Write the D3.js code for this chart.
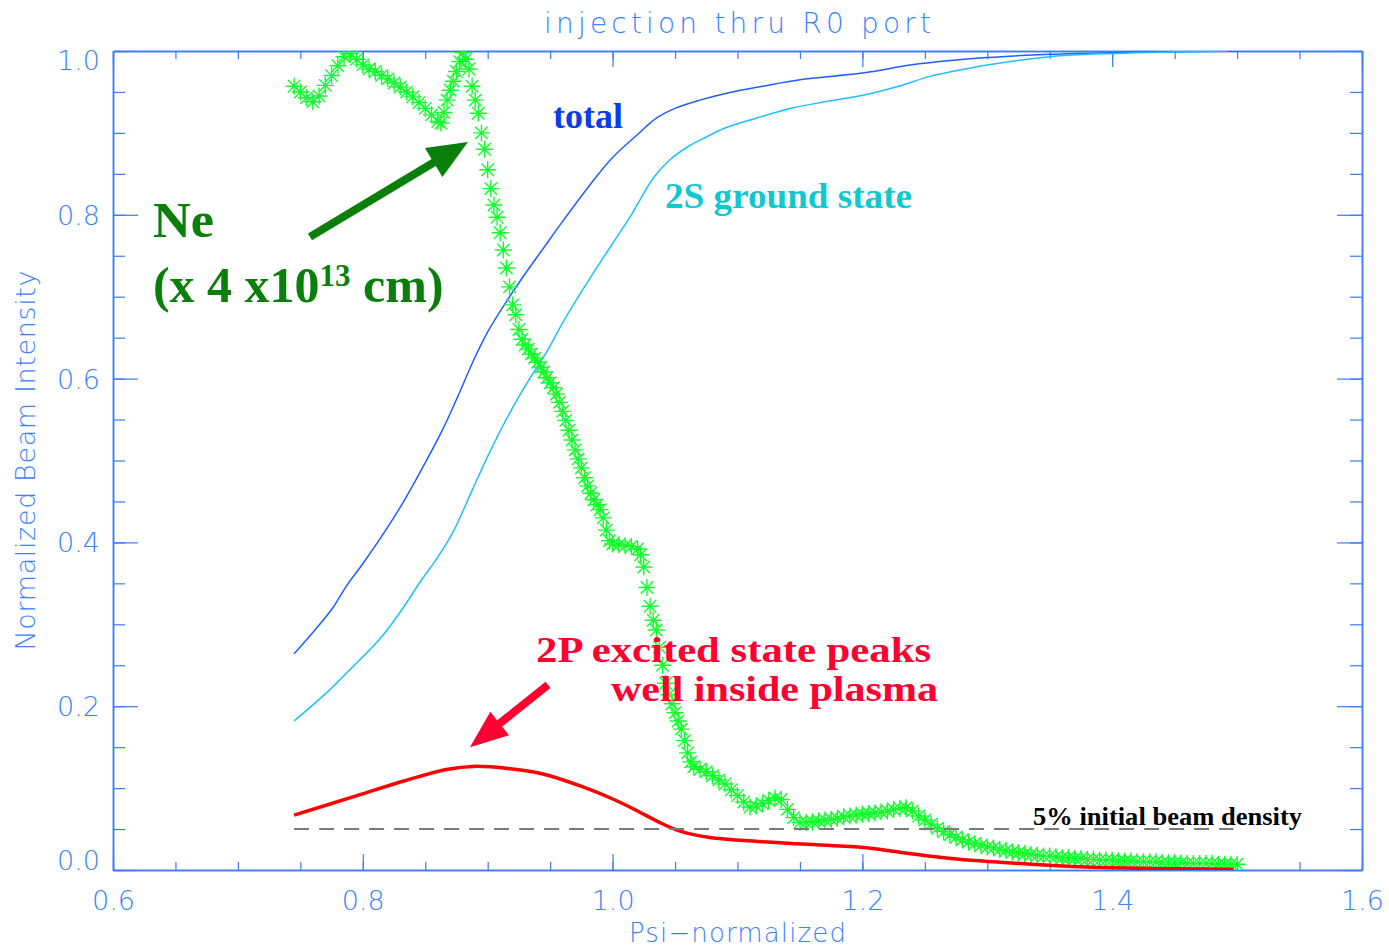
<!DOCTYPE html>
<html>
<head>
<meta charset="utf-8">
<script src="https://cdn.jsdelivr.net/npm/d3@7"></script>
<style>
  body { margin: 0; background: #fff; }
  .ax text { font-family: "DejaVu Sans", sans-serif; font-weight: 200; fill: #3b82ff; }
  .ax path, .ax line { stroke: #3a7bff; }
  .ann { font-family: "Liberation Serif", "Times New Roman", serif; font-weight: bold; }
</style>
</head>
<body>
<svg id="chart" width="1389" height="950"></svg>
<script>
// total beam (normalized)
const totalX = [0.745, 0.760, 0.775, 0.787, 0.800, 0.8136, 0.830, 0.8456, 0.864, 0.876, 0.888, 0.900, 0.915, 0.930, 0.945, 0.960, 0.9826, 1.000, 1.020, 1.035, 1.050, 1.070, 1.093, 1.120, 1.150, 1.200, 1.244, 1.300, 1.350, 1.400, 1.450, 1.500];
const totalY = [0.264, 0.290, 0.318, 0.347, 0.374, 0.404, 0.443, 0.485, 0.538, 0.578, 0.620, 0.657, 0.694, 0.728, 0.760, 0.792, 0.838, 0.870, 0.898, 0.918, 0.930, 0.940, 0.949, 0.957, 0.965, 0.973, 0.984, 0.992, 0.996, 0.998, 0.999, 1.000];

// 2S ground state
const groundX = [0.745, 0.770, 0.790, 0.8136, 0.830, 0.8456, 0.860, 0.872, 0.888, 0.900, 0.918, 0.932, 0.947, 0.960, 0.971, 0.985, 1.000, 1.015, 1.0326, 1.045, 1.0612, 1.075, 1.090, 1.115, 1.143, 1.170, 1.2005, 1.229, 1.254, 1.275, 1.300, 1.350, 1.400, 1.450, 1.493];
const groundY = [0.182, 0.215, 0.245, 0.282, 0.315, 0.351, 0.382, 0.412, 0.465, 0.505, 0.559, 0.596, 0.632, 0.668, 0.696, 0.730, 0.765, 0.800, 0.845, 0.866, 0.884, 0.895, 0.906, 0.918, 0.930, 0.938, 0.946, 0.957, 0.969, 0.976, 0.983, 0.993, 0.997, 0.999, 1.000];

// 2P excited state
const excitedX = [0.745, 0.7907, 0.8336, 0.868, 0.888, 0.9165, 0.945, 0.9736, 1.002, 1.020, 1.037, 1.054, 1.0765, 1.105, 1.148, 1.199, 1.231, 1.271, 1.332, 1.392, 1.497];
const excitedY = [0.067, 0.0886, 0.109, 0.123, 0.1265, 0.124, 0.117, 0.103, 0.0855, 0.072, 0.0585, 0.0475, 0.040, 0.036, 0.032, 0.0277, 0.0215, 0.014, 0.0073, 0.003, 0.001];

// Ne density (x 4e13), plotted with asterisks
const neX = [
  0.745, 0.750, 0.755, 0.760, 0.765, 0.770, 0.775, 0.780, 0.785, 0.790, 0.795, 0.800, 0.805, 0.810, 0.815, 0.820, 0.825, 0.830, 0.835, 0.840, 0.845, 0.850, 0.855, 0.860,
  0.8625, 0.865, 0.8675, 0.870, 0.8725, 0.875, 0.8775, 0.880, 0.8825, 0.885, 0.8875, 0.890, 0.8925, 0.895, 0.8975, 0.900, 0.9025, 0.905, 0.9075, 0.910, 0.9125, 0.915, 0.9175, 0.920,
  0.9225, 0.925, 0.9275, 0.930, 0.9325, 0.935, 0.9375, 0.940, 0.9425, 0.945, 0.9475, 0.950, 0.9525, 0.955, 0.9575, 0.960, 0.9625, 0.965, 0.9675, 0.970, 0.9725, 0.975, 0.9775, 0.980,
  0.9825, 0.985, 0.9875, 0.990, 0.9925, 0.995, 0.9975, 1.000, 1.005, 1.010, 1.015, 1.020, 1.0225, 1.025, 1.0275, 1.030, 1.0325, 1.035, 1.0375, 1.040, 1.0425, 1.045, 1.0475, 1.050,
  1.0525, 1.055, 1.0575, 1.060, 1.0625, 1.065, 1.070, 1.075, 1.080, 1.085, 1.090, 1.095, 1.100, 1.105, 1.110, 1.115, 1.120, 1.125, 1.130, 1.135, 1.140, 1.145, 1.150, 1.155,
  1.160, 1.165, 1.170, 1.175, 1.180, 1.185, 1.190, 1.195, 1.200, 1.205, 1.210, 1.215, 1.220, 1.225, 1.230, 1.235, 1.240, 1.245, 1.250, 1.255, 1.260, 1.265, 1.270, 1.275,
  1.280, 1.285, 1.290, 1.295, 1.300, 1.305, 1.310, 1.315, 1.320, 1.325, 1.330, 1.335, 1.340, 1.345, 1.350, 1.355, 1.360, 1.365, 1.370, 1.375, 1.380, 1.385, 1.390, 1.395,
  1.400, 1.405, 1.410, 1.415, 1.420, 1.425, 1.430, 1.435, 1.440, 1.445, 1.450, 1.455, 1.460, 1.465, 1.470, 1.475, 1.480, 1.485, 1.490, 1.495, 1.500
];
const neY = [
  0.957, 0.950, 0.943, 0.938, 0.945, 0.958, 0.970, 0.982, 0.993, 0.997, 0.990, 0.983, 0.978, 0.975, 0.970, 0.966, 0.961, 0.956, 0.950, 0.944, 0.937, 0.930, 0.922, 0.914,
  0.912, 0.925, 0.940, 0.952, 0.963, 0.975, 0.987, 0.998, 0.990, 0.978, 0.957, 0.940, 0.924, 0.900, 0.880, 0.855, 0.832, 0.812, 0.797, 0.778, 0.757, 0.735, 0.712, 0.690,
  0.678, 0.660, 0.648, 0.641, 0.636, 0.630, 0.625, 0.620, 0.614, 0.608, 0.601, 0.595, 0.589, 0.581, 0.571, 0.560, 0.549, 0.537, 0.525, 0.513, 0.502, 0.491, 0.479, 0.469,
  0.460, 0.452, 0.446, 0.440, 0.430, 0.415, 0.402, 0.398, 0.397, 0.396, 0.395, 0.392, 0.385, 0.370, 0.345, 0.322, 0.305, 0.293, 0.272, 0.250, 0.228, 0.214, 0.203, 0.192,
  0.182, 0.172, 0.158, 0.143, 0.132, 0.126, 0.123, 0.120, 0.115, 0.110, 0.105, 0.098, 0.091, 0.083, 0.077, 0.078, 0.081, 0.085, 0.088, 0.086, 0.074, 0.064, 0.058, 0.058,
  0.059, 0.060, 0.061, 0.062, 0.063, 0.065, 0.066, 0.067, 0.068, 0.069, 0.070, 0.071, 0.072, 0.074, 0.075, 0.076, 0.072, 0.066, 0.061, 0.056, 0.051, 0.047, 0.043, 0.040,
  0.037, 0.034, 0.032, 0.030, 0.028, 0.027, 0.025, 0.024, 0.022, 0.021, 0.020, 0.019, 0.018, 0.017, 0.017, 0.016, 0.015, 0.015, 0.014, 0.014, 0.013, 0.013, 0.012, 0.012,
  0.012, 0.011, 0.011, 0.011, 0.010, 0.010, 0.010, 0.010, 0.009, 0.009, 0.009, 0.009, 0.008, 0.008, 0.008, 0.008, 0.008, 0.007, 0.007, 0.007, 0.007
];

// 5% reference line
const refLevel = 0.05;
const refRange = [0.745, 1.497];

const xMajor = [0.6, 0.8, 1.0, 1.2, 1.4, 1.6];
const yMajor = [0.0, 0.2, 0.4, 0.6, 0.8, 1.0];
const xMinor = d3.range(0.6, 1.6001, 0.05);
const yMinor = d3.range(0, 1.0001, 0.05);

const svg = d3.select("#chart");
const pLeft = 113, pRight = 1362, pTop = 51, pBottom = 870;

const x = d3.scaleLinear().domain([0.6, 1.6]).range([pLeft, pRight]);
const y = d3.scaleLinear().domain([0, 1]).range([pBottom, pTop]);

svg.append("rect").attr("width", 1389).attr("height", 950).attr("fill", "#fff");

svg.append("defs").append("clipPath").attr("id", "plotClip")
  .append("rect").attr("x", pLeft).attr("y", pTop).attr("width", pRight - pLeft).attr("height", pBottom - pTop);

// axes (IDL style, ticks pointing inward)
function drawAxis(gen, tx, ty) {
  return svg.append("g").attr("class", "ax").attr("transform", `translate(${tx},${ty})`).call(gen);
}
const fmt = d3.format(".1f");

drawAxis(d3.axisBottom(x).tickValues(xMinor).tickSize(-8).tickSizeOuter(0).tickFormat(""), 0, pBottom);
const xAx = drawAxis(d3.axisBottom(x).tickValues(xMajor).tickSize(-16).tickSizeOuter(0).tickPadding(21).tickFormat(fmt), 0, pBottom);
drawAxis(d3.axisTop(x).tickValues(xMinor).tickSize(-8).tickSizeOuter(0).tickFormat(""), 0, pTop);
drawAxis(d3.axisTop(x).tickValues(xMajor).tickSize(-16).tickSizeOuter(0).tickFormat(""), 0, pTop);
drawAxis(d3.axisLeft(y).tickValues(yMinor).tickSize(-12).tickSizeOuter(0).tickFormat(""), pLeft, 0);
const yAx = drawAxis(d3.axisLeft(y).tickValues(yMajor).tickSize(-25).tickSizeOuter(0).tickPadding(13).tickFormat(fmt), pLeft, 0);
drawAxis(d3.axisRight(y).tickValues(yMinor).tickSize(-12).tickSizeOuter(0).tickFormat(""), pRight, 0);
drawAxis(d3.axisRight(y).tickValues(yMajor).tickSize(-25).tickSizeOuter(0).tickFormat(""), pRight, 0);

svg.selectAll(".ax path").attr("stroke-width", 1.5);
svg.selectAll(".ax line").attr("stroke-width", 1.2);
xAx.selectAll("text").attr("font-size", 27);
yAx.selectAll("text").attr("font-size", 27)
  .attr("dy", d => d === 1 ? "0.68em" : d === 0 ? "-0.02em" : "0.35em");

// titles
svg.append("text")
  .attr("x", (pLeft + pRight) / 2).attr("y", 33)
  .attr("text-anchor", "middle").attr("textLength", 387)
  .style("font", "200 28px 'DejaVu Sans', sans-serif").attr("fill", "#3b82ff")
  .text("injection thru R0 port");
svg.append("text")
  .attr("x", (pLeft + pRight) / 2).attr("y", 942)
  .attr("text-anchor", "middle").attr("textLength", 217)
  .style("font", "200 26px 'DejaVu Sans', sans-serif").attr("fill", "#3b82ff")
  .text("Psi\u2212normalized");
svg.append("text")
  .attr("transform", `translate(35,${(pTop + pBottom) / 2}) rotate(-90)`)
  .attr("text-anchor", "middle").attr("textLength", 380)
  .style("font", "200 27px 'DejaVu Sans', sans-serif").attr("fill", "#3b82ff")
  .text("Normalized Beam Intensity");

const plot = svg.append("g").attr("clip-path", "url(#plotClip)");

const line = d3.line().x(d => x(d[0])).y(d => y(d[1])).curve(d3.curveCatmullRom.alpha(0.5));

plot.append("path").datum(d3.zip(totalX, totalY))
  .attr("d", line).attr("fill", "none").attr("stroke", "#1f5fff").attr("stroke-width", 1.5);
plot.append("path").datum(d3.zip(groundX, groundY))
  .attr("d", line).attr("fill", "none").attr("stroke", "#1ec0ff").attr("stroke-width", 1.5);

// asterisk markers
const star = "M-8.5,0H8.5M0,-8.5V8.5M-6.2,-6.2L6.2,6.2M-6.2,6.2L6.2,-6.2";
plot.append("g").selectAll("path").data(d3.zip(neX, neY)).join("path")
  .attr("transform", d => `translate(${x(d[0])},${y(d[1])})`)
  .attr("d", star).attr("fill", "none").attr("stroke", "#10ff2a").attr("stroke-width", 1.4);

plot.append("path").datum(d3.zip(excitedX, excitedY))
  .attr("d", line).attr("fill", "none").attr("stroke", "#ff0000").attr("stroke-width", 3.5);

plot.append("line")
  .attr("x1", x(refRange[0])).attr("x2", x(refRange[1]))
  .attr("y1", y(refLevel)).attr("y2", y(refLevel))
  .attr("stroke", "#7a7a7a").attr("stroke-width", 2).attr("stroke-dasharray", "15,10");

// annotations
function arrow(x0, y0, x1, y1, color, headLen, headHalf, shaft) {
  const p0 = [x(x0), y(y0)], p1 = [x(x1), y(y1)];
  const dx = p1[0] - p0[0], dy = p1[1] - p0[1];
  const len = Math.hypot(dx, dy), ux = dx / len, uy = dy / len;
  const bx = p1[0] - ux * headLen, by = p1[1] - uy * headLen;
  svg.append("line").attr("x1", p0[0]).attr("y1", p0[1]).attr("x2", bx + ux * 2).attr("y2", by + uy * 2)
    .attr("stroke", color).attr("stroke-width", shaft);
  svg.append("path")
    .attr("d", `M${p1[0]},${p1[1]}L${bx - uy * headHalf},${by + ux * headHalf}L${bx + uy * headHalf},${by - ux * headHalf}Z`)
    .attr("fill", color);
}

function label(xv, yv, txt, size, color, len) {
  const t = svg.append("text").attr("class", "ann")
    .attr("x", x(xv)).attr("y", y(yv))
    .attr("font-size", size).attr("fill", color).text(txt);
  if (len) t.attr("textLength", len).attr("lengthAdjust", "spacingAndGlyphs");
  return t;
}

label(0.9523, 0.906, "total", 35, "#0a3de8", 70);
label(1.042, 0.808, "2S ground state", 35, "#10c8d0", 247);
label(0.632, 0.773, "Ne", 50, "#0b7f0b", 61);
const ne2 = label(0.632, 0.6935, "", 50, "#0b7f0b");
ne2.append("tspan").text("(x 4 x10");
ne2.append("tspan").attr("font-size", 31).attr("dy", -16).text("13");
ne2.append("tspan").attr("dy", 16).text(" cm)");
arrow(0.7577, 0.773, 0.8842, 0.889, "#0b7f0b", 40, 17, 8);

label(0.9387, 0.254, "2P excited state peaks", 36, "#ff0030", 395);
label(0.9987, 0.2063, "well inside plasma", 36, "#ff0030", 327);
arrow(0.9483, 0.2259, 0.8858, 0.150, "#ff0030", 38, 15, 8);

label(1.3366, 0.055, "5% initial beam density", 25, "#000", 269);
</script>
</body>
</html>
